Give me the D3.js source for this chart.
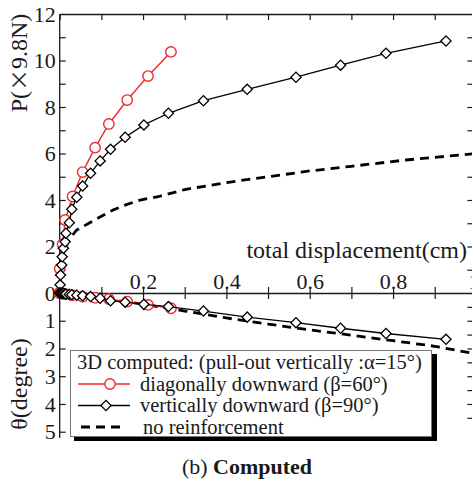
<!DOCTYPE html>
<html>
<head>
<meta charset="utf-8">
<script src="https://cdn.jsdelivr.net/npm/d3@7"></script>
<style>
  body { margin: 0; background: #fff; }
  svg { display: block; font-family: "Liberation Serif", "DejaVu Serif", serif; }
</style>
</head>
<body>
<div id="chart"></div>
<script>
// diagonally downward (beta=60)
const dispRed  = [0, 0.0, 0.007, 0.013, 0.031, 0.055, 0.085, 0.118, 0.162, 0.212, 0.267];
const loadRed  = [0, 1.05, 2.1, 3.14, 4.15, 5.2, 6.25, 7.27, 8.3, 9.33, 10.37];
const angleRed = [0, 0.0, 0.02, 0.04, 0.08, 0.13, 0.17, 0.22, 0.31, 0.43, 0.55];

// vertically downward (beta=90)
const dispBlack  = [0, 0.001, 0.002, 0.005, 0.006, 0.009, 0.013, 0.015, 0.023, 0.029, 0.041, 0.055,
                    0.074, 0.097, 0.122, 0.157, 0.202, 0.261, 0.345, 0.45, 0.567, 0.674, 0.783, 0.927];
const loadBlack  = [0, 0.35, 0.77, 1.2, 1.56, 1.92, 2.2, 2.57, 3.02, 3.6, 4.12, 4.6,
                    5.15, 5.68, 6.18, 6.7, 7.23, 7.73, 8.27, 8.76, 9.28, 9.8, 10.31, 10.84];
const angleBlack = [0, 0.0, 0.01, 0.01, 0.02, 0.02, 0.03, 0.04, 0.05, 0.06, 0.08, 0.1,
                    0.13, 0.19, 0.28, 0.33, 0.41, 0.49, 0.65, 0.87, 1.07, 1.27, 1.46, 1.67];

// no reinforcement
const dispNone  = [0.012, 0.022, 0.04, 0.07, 0.1, 0.128, 0.16, 0.193, 0.236, 0.3, 0.4, 0.5, 0.6, 0.7, 0.83, 1.0];
const loadNone  = [1.95, 2.28, 2.7, 3.0, 3.3, 3.57, 3.8, 4.0, 4.14, 4.45, 4.75, 5.0, 5.25, 5.45, 5.72, 6.0];
const dispNoneA = [0, 0.1, 0.2, 0.3, 0.4, 0.5, 0.6, 0.7, 0.8, 0.9, 1.0];
const angleNone = [0, 0.2, 0.4, 0.65, 0.9, 1.12, 1.33, 1.52, 1.72, 1.92, 2.2];

const xTickLabels = {0.2: "0.2", 0.4: "0.4", 0.6: "0.6", 0.8: "0.8", 1: "1"};
const loadTicks = [0, 2, 4, 6, 8, 10, 12];
const angleTicks = [1, 2, 3, 4, 5];

const legendRows = [
  { label: "diagonally downward (β=60°)", type: "red" },
  { label: "vertically downward (β=90°)", type: "black" },
  { label: "no reinforcement", type: "dash" }
];

const W = 472, H = 481;
const svg = d3.select("#chart").append("svg").attr("width", W).attr("height", H);

const x = d3.scaleLinear().domain([0, 1]).range([59.7, 476.4]);
const yP = d3.scaleLinear().domain([0, 12]).range([293, 14]);
const yT = d3.scaleLinear().domain([0, 5]).range([293, 431.7]);

const xMinor = d3.range(0, 11).map(i => i / 10);
const ink = "#1a1a1a";
const fmtInt = d3.format("d");

function styleAxis(g) {
  g.attr("font-family", null);
  g.selectAll("path").attr("stroke", ink).attr("stroke-width", 1.3);
  g.selectAll("line").attr("stroke", ink).attr("stroke-width", 1.2);
  g.selectAll("text").attr("fill", ink).style("font-family", '"Liberation Serif", serif');
}

// top frame
svg.append("g").attr("transform", "translate(0,14)")
  .call(d3.axisBottom(x).tickValues(xMinor).tickSize(6).tickSizeOuter(0).tickFormat(""))
  .call(styleAxis);

// shared zero axis (ticks crossing)
svg.append("g").attr("transform", "translate(0,293)")
  .call(d3.axisTop(x).tickValues(xMinor).tickSize(6).tickSizeOuter(0).tickFormat(""))
  .call(styleAxis);
svg.append("g").attr("transform", "translate(0,293)")
  .call(d3.axisBottom(x).tickValues(xMinor).tickSize(6).tickSizeOuter(0).tickFormat(""))
  .call(g => g.select(".domain").remove())
  .call(styleAxis);
svg.append("g").attr("transform", "translate(0,293)")
  .call(d3.axisTop(x).tickValues([0.2, 0.4, 0.6, 0.8]).tickSize(0).tickPadding(4)
    .tickFormat(d => xTickLabels[d]))
  .call(g => g.select(".domain").remove())
  .call(styleAxis)
  .selectAll("text").style("font-size", "22px");
// the "1" label sits on the clipped right edge
svg.append("text").attr("x", 474).attr("y", 289).attr("text-anchor", "middle")
  .attr("fill", ink).style("font-size", "22px").text(xTickLabels[1]);

// left axis line
svg.append("line").attr("x1", x(0)).attr("x2", x(0)).attr("y1", 14).attr("y2", 438)
  .attr("stroke", ink).attr("stroke-width", 1.3);

// left ticks and labels (load)
svg.append("g").attr("transform", `translate(${x(0)},0)`)
  .call(d3.axisRight(yP).tickValues(d3.range(1, 12)).tickSize(6).tickFormat(""))
  .call(g => g.select(".domain").remove())
  .call(styleAxis);
svg.append("g").attr("transform", `translate(${x(0)},0)`)
  .call(d3.axisLeft(yP).tickValues(loadTicks).tickSize(0).tickPadding(4).tickFormat(fmtInt))
  .call(g => g.select(".domain").remove())
  .call(styleAxis)
  .selectAll("text").style("font-size", "22px");

// left ticks and labels (angle)
svg.append("g").attr("transform", `translate(${x(0)},0)`)
  .call(d3.axisRight(yT).tickValues(angleTicks).tickSize(6).tickFormat(""))
  .call(g => g.select(".domain").remove())
  .call(styleAxis);
svg.append("g").attr("transform", `translate(${x(0)},0)`)
  .call(d3.axisLeft(yT).tickValues(angleTicks).tickSize(0).tickPadding(4).tickFormat(fmtInt))
  .call(g => g.select(".domain").remove())
  .call(styleAxis)
  .selectAll("text").style("font-size", "22px");

// right axis (mostly off-canvas)
svg.append("g").attr("transform", `translate(${x(1)},0)`)
  .call(d3.axisLeft(yP).tickValues(d3.range(1, 12)).tickSize(9).tickFormat(""))
  .call(g => g.select(".domain").remove())
  .call(styleAxis);
svg.append("g").attr("transform", `translate(${x(1)},0)`)
  .call(d3.axisLeft(yT).tickValues(d3.range(1, 10).map(i => i / 2)).tickSize(9).tickFormat(""))
  .call(g => g.select(".domain").remove())
  .call(styleAxis);

// axis titles
svg.append("text")
  .attr("x", 467).attr("y", 258).attr("text-anchor", "end")
  .attr("fill", ink).style("font-size", "24px")
  .text("total displacement(cm)");

const pLabel = svg.append("text")
  .attr("transform", "translate(27,63) rotate(-90)")
  .attr("text-anchor", "middle").attr("fill", ink).style("font-size", "24px");
pLabel.append("tspan").text("P(");
pLabel.append("tspan").style("font-family", '"Noto Sans CJK JP", sans-serif').style("font-size", "22px").text("×");
pLabel.append("tspan").text("9.8N)");

svg.append("text")
  .attr("transform", "translate(27,384) rotate(-90)")
  .attr("text-anchor", "middle").attr("fill", ink).style("font-size", "24px")
  .text("θ(degree)");

// series
const lineP = (xs, ys) => d3.line().x((d, i) => x(xs[i])).y((d, i) => yP(ys[i]))(xs);
const lineT = (xs, ys) => d3.line().x((d, i) => x(xs[i])).y((d, i) => yT(ys[i]))(xs);

const plot = svg.append("g");

plot.append("path").attr("d", lineP(dispNone, loadNone))
  .attr("fill", "none").attr("stroke", "#000").attr("stroke-width", 2.8).attr("stroke-dasharray", "9,6");
plot.append("path").attr("d", lineT(dispNoneA, angleNone))
  .attr("fill", "none").attr("stroke", "#000").attr("stroke-width", 2.8).attr("stroke-dasharray", "9,6");

const red = "#ee2a2a";
const diamond = d3.symbol().type(d3.symbolSquare).size(52);

function drawRed(ys, scale) {
  plot.append("path").attr("d", d3.line().x((d, i) => x(dispRed[i])).y((d, i) => scale(ys[i]))(dispRed))
    .attr("fill", "none").attr("stroke", red).attr("stroke-width", 1.4);
  plot.append("g").selectAll("circle").data(dispRed).join("circle")
    .attr("cx", d => x(d)).attr("cy", (d, i) => scale(ys[i])).attr("r", 5.2)
    .attr("fill", "#fff").attr("stroke", red).attr("stroke-width", 1.4);
}

function drawBlack(ys, scale) {
  plot.append("path").attr("d", d3.line().x((d, i) => x(dispBlack[i])).y((d, i) => scale(ys[i]))(dispBlack))
    .attr("fill", "none").attr("stroke", "#000").attr("stroke-width", 1.3);
  plot.append("g").selectAll("path").data(dispBlack).join("path")
    .attr("d", diamond)
    .attr("transform", (d, i) => `translate(${x(d)},${scale(ys[i])}) rotate(45)`)
    .attr("fill", "#fff").attr("stroke", "#000").attr("stroke-width", 1.3);
}

drawRed(loadRed, yP);
drawRed(angleRed, yT);
drawBlack(loadBlack, yP);
drawBlack(angleBlack, yT);

// legend
const lg = svg.append("g");
lg.append("rect").attr("x", 431.5).attr("y", 354).attr("width", 5.5).attr("height", 87).attr("fill", "#000");
lg.append("rect").attr("x", 74).attr("y", 436).attr("width", 363).attr("height", 5).attr("fill", "#000");
lg.append("rect").attr("x", 70.5).attr("y", 350.5).attr("width", 361).attr("height", 86)
  .attr("fill", "#fff").attr("stroke", "#777").attr("stroke-width", 1);

lg.append("text").attr("x", 77).attr("y", 369).attr("fill", ink).style("font-size", "20.5px")
  .text("3D computed: (pull-out vertically :α=15°)");

legendRows.forEach((r, i) => {
  const by = 390.5 + i * 21.5;
  const cy = by - 6.5;
  if (r.type === "red") {
    lg.append("line").attr("x1", 78).attr("x2", 130).attr("y1", cy).attr("y2", cy)
      .attr("stroke", red).attr("stroke-width", 1.4);
    lg.append("circle").attr("cx", 110).attr("cy", cy).attr("r", 5.2)
      .attr("fill", "#fff").attr("stroke", red).attr("stroke-width", 1.4);
  } else if (r.type === "black") {
    lg.append("line").attr("x1", 78).attr("x2", 130).attr("y1", cy).attr("y2", cy)
      .attr("stroke", "#000").attr("stroke-width", 1.3);
    lg.append("path").attr("d", diamond).attr("transform", `translate(106,${cy}) rotate(45)`)
      .attr("fill", "#fff").attr("stroke", "#000").attr("stroke-width", 1.3);
  } else {
    lg.append("line").attr("x1", 81).attr("x2", 124).attr("y1", cy).attr("y2", cy)
      .attr("stroke", "#000").attr("stroke-width", 2.8).attr("stroke-dasharray", "9,6");
  }
  lg.append("text").attr("x", r.type === "dash" ? 143 : 140).attr("y", by)
    .attr("fill", ink).style("font-size", "20.5px").text(r.label);
});

// caption
const cap = svg.append("text").attr("x", 247).attr("y", 474).attr("text-anchor", "middle")
  .attr("fill", ink).style("font-size", "22px");
cap.append("tspan").text("(b) ");
cap.append("tspan").style("font-weight", "bold").text("Computed");
</script>
</body>
</html>
